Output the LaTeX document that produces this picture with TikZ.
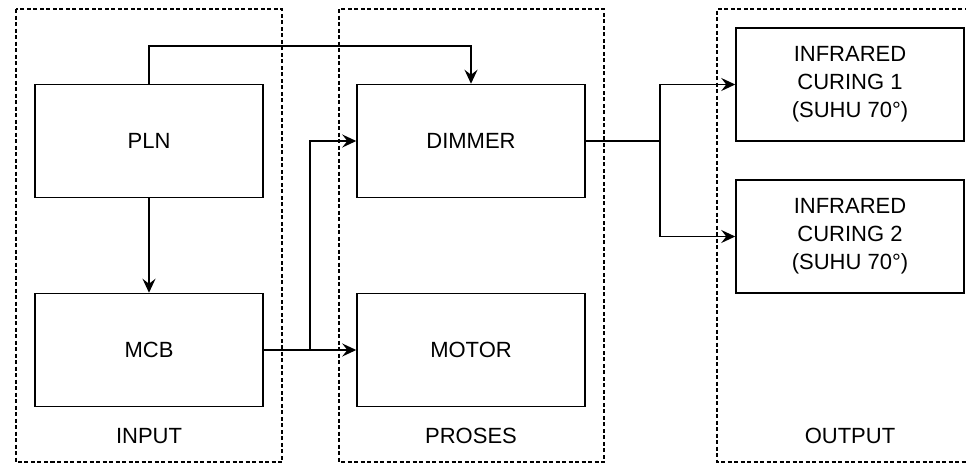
\documentclass[tikz,border=0pt]{standalone}
\usepackage{fontspec}
\setmainfont{Liberation Sans}
\usetikzlibrary{arrows.meta}
\begin{document}
\begin{tikzpicture}[x=1pt,y=-1pt,
  blockbox/.style={draw,line width=1.5pt,minimum width=228pt,minimum height=113pt,inner sep=0pt,align=center,font=\fontsize{22}{28}\selectfont},
  groupbox/.style={draw,dashed,dash pattern=on 4pt off 2.5pt,line width=1.3pt},
  grouplabel/.style={anchor=base,font=\fontsize{22}{28}\selectfont},
  conn/.style={line width=1.5pt},
  arr/.style={conn,-{Stealth[length=14pt,width=13pt,inset=5pt]}}]
\useasboundingbox (0,0) rectangle (966,463);
\fill[white] (0,0) rectangle (966,463);
% group frames
\draw[groupbox] (16,9) rectangle (282,462);
\draw[groupbox] (339,9) rectangle (604,462);
\draw[groupbox] (975,9) -- (717,9) -- (717,462) -- (975,462);
% blocks
\node[blockbox] (pln) at (149,141) {PLN};
\node[blockbox] (mcb) at (149,350) {MCB};
\node[blockbox] (dimmer) at (471,141) {DIMMER};
\node[blockbox] (motor) at (471,350) {MOTOR};
\node[blockbox] (ir1) at (850,84.5) {INFRARED\\CURING 1\\(SUHU 70°)};
\node[blockbox] (ir2) at (850,236.5) {INFRARED\\CURING 2\\(SUHU 70°)};
% labels
\node[grouplabel] (lin) at (149,443) {INPUT};
\node[grouplabel] (lpr) at (471,443) {PROSES};
\node[grouplabel] (lout) at (850,443) {OUTPUT};
% connectors
\draw[arr] (pln.north) -- ++(0,-38) -| (dimmer.north);
\draw[arr] (pln.south) -- (mcb.north);
\draw[arr] (mcb.east) -- (motor.west);
\coordinate (b1) at (310,350);
\draw[arr] (b1) |- (dimmer.west);
\draw[conn] (dimmer.east) -- (660,141) coordinate (b2);
\draw[arr] (b2) |- (ir1.west);
\draw[arr] (b2) |- (ir2.west);
\end{tikzpicture}
\end{document}
